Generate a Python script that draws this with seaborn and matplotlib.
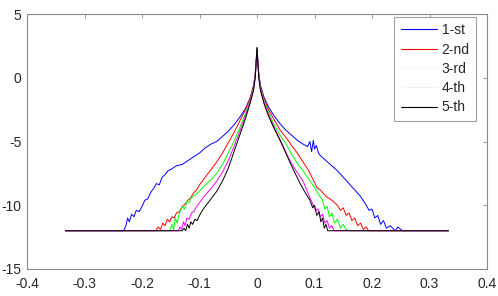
import matplotlib
matplotlib.use("Agg")
import matplotlib.pyplot as plt
from matplotlib.lines import Line2D
import seaborn as sns
import pandas as pd

labels = ["1-st", "2-nd", "3-rd", "4-th", "5-th"]
colors = ["#0000ff", "#ff0000", "#00ff00", "#ff00ff", "#000000"]
legend_colors = ["#0000ff", "#ff0000", "#f2fbe8", "#fbeefb", "#000000"]

x1 = [-0.333, -0.232, -0.228, -0.225, -0.222, -0.218, -0.214, -0.210, -0.205, -0.200, -0.195, -0.190,
      -0.185, -0.180, -0.175, -0.170, -0.165, -0.160, -0.155, -0.150, -0.140, -0.130, -0.120, -0.110,
      -0.100, -0.090, -0.080, -0.070, -0.060, -0.050, -0.040, -0.030, -0.020, -0.012, -0.006, -0.003, 0.0,
      0.003, 0.006, 0.012, 0.020, 0.030, 0.040, 0.050, 0.060, 0.070, 0.080, 0.088, 0.092, 0.095, 0.098,
      0.100, 0.103, 0.107, 0.110, 0.120, 0.130, 0.140, 0.150, 0.160, 0.170, 0.180, 0.190, 0.195, 0.200,
      0.205, 0.210, 0.215, 0.220, 0.225, 0.232, 0.240, 0.245, 0.250, 0.253, 0.333]
y1 = [-12, -12, -11.6, -11.0, -11.3, -10.7, -10.9, -10.4, -10.5, -10.1, -9.6, -9.5,
      -9.0, -8.7, -8.3, -8.4, -7.8, -7.6, -7.3, -7.2, -6.9, -6.8, -6.5, -6.2,
      -5.9, -5.5, -5.2, -5.0, -4.6, -4.2, -3.7, -3.1, -2.4, -1.6, -0.6, 0.4, 2.3,
      0.4, -0.6, -1.5, -2.3, -3.0, -3.6, -4.1, -4.5, -4.9, -5.2, -5.4, -5.0, -5.8, -4.9,
      -5.6, -5.3, -5.9, -6.1, -6.5, -6.9, -7.3, -7.8, -8.3, -8.8, -9.3, -10.0, -10.4, -10.3,
      -11.0, -10.8, -11.5, -11.2, -11.8, -11.6, -12, -11.7, -11.9, -12, -12]

x2 = [-0.333, -0.176, -0.172, -0.168, -0.164, -0.160, -0.156, -0.152, -0.148, -0.144, -0.140, -0.135,
      -0.130, -0.125, -0.120, -0.115, -0.110, -0.105, -0.100, -0.090, -0.080, -0.070, -0.060, -0.050,
      -0.040, -0.030, -0.020, -0.012, -0.006, -0.003, 0.0,
      0.003, 0.006, 0.012, 0.020, 0.030, 0.040, 0.054, 0.060, 0.070, 0.080, 0.090, 0.100, 0.104,
      0.110, 0.120, 0.130, 0.140, 0.145, 0.150, 0.155, 0.160, 0.165, 0.170, 0.175, 0.180, 0.185,
      0.190, 0.194, 0.333]
y2 = [-12, -12, -11.7, -11.9, -11.4, -11.6, -11.1, -11.3, -10.9, -11.0, -10.6, -10.5,
      -10.1, -9.9, -9.6, -9.4, -9.0, -8.8, -8.4, -7.8, -7.2, -6.6, -5.9, -5.1,
      -4.3, -3.4, -2.5, -1.6, -0.7, 0.3, 2.2,
      0.3, -0.7, -1.6, -2.5, -3.3, -4.1, -4.9, -5.3, -5.9, -6.6, -7.3, -8.2, -8.6,
      -8.8, -9.3, -9.6, -10.0, -10.4, -10.2, -10.8, -10.6, -11.2, -11.0, -11.6, -11.4, -11.9,
      -11.7, -12, -12]

x3 = [-0.333, -0.152, -0.148, -0.145, -0.142, -0.139, -0.135, -0.130, -0.126, -0.122, -0.118, -0.114,
      -0.108, -0.100, -0.090, -0.080, -0.070, -0.060, -0.050, -0.040, -0.030, -0.020, -0.012, -0.006,
      -0.003, 0.0,
      0.003, 0.006, 0.012, 0.020, 0.030, 0.040, 0.052, 0.060, 0.070, 0.080, 0.092, 0.100, 0.108,
      0.114, 0.118, 0.122, 0.126, 0.130, 0.135, 0.140, 0.145, 0.150, 0.155, 0.162, 0.333]
y3 = [-12, -12, -11.5, -11.9, -11.0, -11.4, -10.6, -10.1, -10.3, -9.7, -9.8, -9.4,
      -9.2, -8.9, -8.4, -8.0, -7.5, -6.8, -5.9, -5.0, -3.9, -2.8, -1.8, -0.8,
      0.2, 2.1,
      0.2, -0.8, -1.8, -2.7, -3.7, -4.5, -5.3, -6.0, -6.7, -7.3, -8.1, -8.6, -9.2,
      -9.6, -10.3, -10.1, -10.9, -10.6, -11.4, -11.1, -11.8, -11.5, -11.9, -12, -12]

x4 = [-0.333, -0.137, -0.134, -0.131, -0.128, -0.125, -0.122, -0.118, -0.114, -0.110, -0.105, -0.100,
      -0.090, -0.080, -0.070, -0.060, -0.050, -0.040, -0.030, -0.020, -0.012, -0.006, -0.003, 0.0,
      0.003, 0.006, 0.012, 0.020, 0.030, 0.045, 0.055, 0.065, 0.080, 0.090, 0.097, 0.102, 0.106,
      0.110, 0.114, 0.118, 0.122, 0.126, 0.130, 0.134, 0.333]
y4 = [-12, -12, -11.7, -11.9, -11.3, -11.6, -11.0, -11.1, -10.6, -10.5, -10.1, -9.8,
      -9.2, -8.7, -8.1, -7.4, -6.5, -5.4, -4.2, -3.0, -1.9, -0.9, 0.1, 2.0,
      0.1, -0.9, -1.9, -2.9, -3.9, -5.3, -6.3, -7.1, -8.1, -9.2, -9.9, -10.4, -10.3,
      -10.9, -10.7, -11.4, -11.2, -11.8, -11.6, -12, -12]

x5 = [-0.333, -0.130, -0.127, -0.124, -0.121, -0.118, -0.115, -0.112, -0.108, -0.104, -0.100, -0.095,
      -0.090, -0.085, -0.080, -0.075, -0.070, -0.060, -0.050, -0.040, -0.030, -0.020, -0.012, -0.006,
      -0.003, 0.0,
      0.003, 0.006, 0.012, 0.020, 0.030, 0.040, 0.050, 0.060, 0.075, 0.085, 0.092, 0.097, 0.100,
      0.104, 0.108, 0.111, 0.114, 0.117, 0.120, 0.123, 0.333]
y5 = [-12, -12, -11.8, -12, -11.5, -11.8, -11.3, -11.5, -11.1, -11.2, -10.8, -10.4,
      -10.1, -9.8, -9.5, -9.2, -8.9, -8.1, -7.1, -5.8, -4.5, -3.2, -2.0, -1.0,
      0.0, 2.4,
      0.0, -1.0, -2.0, -3.0, -4.0, -4.9, -5.9, -6.9, -8.3, -9.1, -9.6, -10.2, -10.0,
      -10.8, -10.5, -11.3, -11.0, -11.8, -11.5, -12, -12]

xticks = [-0.4, -0.3, -0.2, -0.1, 0, 0.1, 0.2, 0.3, 0.4]
xticklabels = ["-0.4", "-0.3", "-0.2", "-0.1", "0", "0.1", "0.2", "0.3", "0.4"]
yticks = [-15, -10, -5, 0, 5]
yticklabels = ["-15", "-10", "-5", "0", "5"]

sns.set_style("white")
plt.rcParams['font.family'] = ['Liberation Sans', 'DejaVu Sans']

fig = plt.figure(figsize=(4.98, 2.96), dpi=100)
ax = fig.add_axes([27 / 498, 27 / 296, 460 / 498, 255 / 296])

series = [(x1, y1), (x2, y2), (x3, y3), (x4, y4), (x5, y5)]
for (xs, ys), lab, col in zip(series, labels, colors):
    df = pd.DataFrame({"x": xs, "y": ys})
    sns.lineplot(data=df, x="x", y="y", ax=ax, color=col, linewidth=0.7,
                 sort=False, estimator=None, legend=False)

ax.set_xlim(-0.4, 0.4)
ax.set_ylim(-15, 5)
ax.set_xticks(xticks)
ax.set_xticklabels(xticklabels)
ax.set_yticks(yticks)
ax.set_yticklabels(yticklabels)
ax.set_xlabel("")
ax.set_ylabel("")
for s in ax.spines.values():
    s.set_visible(True)
    s.set_color("#8a8a8a")
    s.set_linewidth(0.8)
ax.tick_params(direction="in", length=3, width=0.6, color="#8a8a8a",
               labelsize=10, labelcolor="#262626", top=True, right=True)
ax.tick_params(axis="x", pad=6)
ax.tick_params(axis="y", pad=4)

handles = [Line2D([0], [0], color=c, linewidth=0.8) for c in legend_colors]
leg = ax.legend(handles, labels, loc="upper right", fontsize=10, frameon=True,
                fancybox=False, handlelength=2.6, handletextpad=0.35,
                labelspacing=0.38, borderpad=0.45, borderaxespad=0,
                bbox_to_anchor=(0.976, 0.988))
leg.get_frame().set_edgecolor("#8a8a8a")
leg.get_frame().set_linewidth(0.8)

fig.savefig("out.png", dpi=100)
